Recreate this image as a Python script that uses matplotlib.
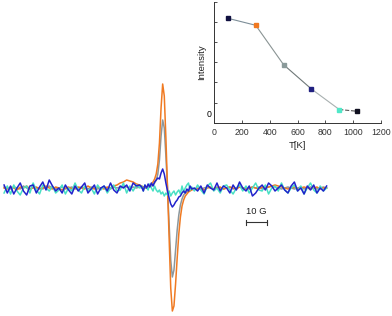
import numpy as np
import matplotlib
matplotlib.use("Agg")
import matplotlib.pyplot as plt

plt.rcParams["font.family"] = ["Liberation Sans", "DejaVu Sans"]

# field axis (G, relative to line centre): coarse wings, finer centre
field = np.concatenate([np.arange(-76, -12.5, 1.5),
                        np.arange(-12, 12, 0.75),
                        np.arange(12.5, 75, 1.5)])

# EPR spectra (arbitrary units)
orange_left = [0, -1, 1, 0, -2, 1, 0, 2, -1, 0, 1, -1, 0, 2, 0, -1, 1, 0, -2, 0, 1, -1,
               0, 1, 0, -1, 2, 0, -1, 1, 0, -1, 1, 0, 2, 3, 5, 6, 8, 7, 6, 4, 3]
orange_center = [2, 1, 0, 1, 2, 3, 4, 6, 9, 14, 24, 45, 80, 104, 92, 50, 0, -50, -100, -123,
                 -118, -96, -70, -46, -29, -18, -12, -8, -6, -4, -3, -2]
orange_right = [-1, -1, 0, -2, 0, 1, -1, 0, 1, -1, 0, 1, 0, -1, 1, 0, -1, 0, 1, 0, -1,
                1, 0, 1, 2, 3, 2, 1, 0, -1, 0, 1, -1, 0, 1, 0, -1, 0, 1, -1, 0, 0]

gray_left = [1, 0, -1, 1, 0, -1, 2, 0, -1, 1, 0, 0, -1, 1, 2, 0, -1, 0, 1, -1, 0, 1,
             -1, 0, 1, 0, -1, 1, 0, -1, 0, 1, 0, -1, 1, 0, 1, 2, 1, 0, 1, 0, 1]
gray_center = [0, 1, 0, 1, 1, 2, 2, 3, 5, 8, 14, 28, 52, 68, 60, 32, 0, -36, -72, -89,
               -82, -62, -42, -27, -17, -11, -7, -5, -4, -3, -2, -1]
gray_right = [-1, 0, -1, 0, 1, 0, -1, 1, 0, -1, 0, 1, -1, 0, 1, 0, 0, -1, 1, 0, 1,
              -1, 0, 1, 2, 1, 0, -1, 0, 1, 0, -1, 0, 1, -1, 0, 1, 0, -1, 0, 1, 0]

blue_left = [3, -5, 2, -6, 0, 5, -3, -7, 2, 3, -5, 1, 6, -2, 8, 2, -3, 0, -5, 3, -2, -6,
             2, -3, 1, 5, -5, -1, 3, -6, 0, 2, -3, 5, -2, -5, 2, 0, 3, -3, 5, 2, 3]
blue_center = [1, -3, 3, 0, 4, 1, 5, 2, 6, 8, 10, 9, 15, 19, 14, 5, -3, -10, -16, -19,
               -17, -14, -12, -9, -8, -5, -3, -5, -1, -3, 2, -1]
blue_right = [0, -3, 2, -5, 3, 0, -2, 5, -3, 2, 0, -5, 3, -2, 6, 0, -3, 2, -8, -5, 0,
              3, -2, 5, 2, -3, 0, 3, -2, -5, 2, 6, -3, 0, -6, 2, -2, 3, -5, 0, -3, 2]

cyan_left = [-5, 2, -6, 3, -3, -7, 0, 2, -5, 5, -2, -6, 3, 0, -3, 2, -5, -2, 3, -6, 0, -3,
             5, -2, -5, 2, -3, 0, -6, 3, -2, 2, -5, 0, 3, -3, -2, 5, -5, 2, -3, 3, 0]
cyan_center = [2, -3, 3, 0, -2, 4, 0, -3, 2, -2, -4, -2, -6, -4, -8, -5, -7, -3, -8, -5,
               -3, -7, -4, -2, -6, 2, -4, 0, 3, 5, -2, 1]
cyan_right = [-3, 3, -2, -6, 2, 5, -3, 0, -5, 2, 3, -2, -6, 0, 3, -3, 2, -5, 0, 5, -2,
              -3, 3, -6, 0, 2, -3, 5, -2, -5, 0, 3, -3, 2, -6, 0, 5, -2, -5, 2, -3, 0]

# inset: intensity vs temperature
temps = [100, 300, 500, 700, 900, 1030]
intensity = [94.7, 87.7, 48.3, 24.0, 3.5, 1.7]
point_colors = ["#101040", "#f07820", "#8a9a9a", "#202080", "#50e8c8", "#101020"]

spectra = [
    (gray_left + gray_center + gray_right, "#8c979c"),
    (orange_left + orange_center + orange_right, "#f07a22"),
    (cyan_left + cyan_center + cyan_right, "#48e0c4"),
    (blue_left + blue_center + blue_right, "#2222cc"),
]

fig = plt.figure(figsize=(3.92, 3.16), dpi=100)
ax = fig.add_axes([0, 0, 1, 1])
for values, color in spectra:
    ax.plot(field, values, color=color, lw=1.1)
ax.set_xlim(-77.9, 104.4)
ax.set_ylim(-128, 188)
ax.axis("off")

# 10 G scale bar
ax.plot([36.5, 46.5], [-34, -34], color="#333333", lw=0.8)
ax.plot([36.5, 36.5], [-31.5, -36.5], color="#333333", lw=0.8)
ax.plot([46.5, 46.5], [-31.5, -36.5], color="#333333", lw=0.8)
ax.text(41.5, -28, "10 G", ha="center", va="bottom", fontsize=6.8, color="#222222")

# inset
ins = fig.add_axes([214 / 392, 1 - 122.7 / 316, 167 / 392, 121 / 316])
ins.patch.set_alpha(0)
seg_styles = [("#7d8e98", "-"), ("#8a9494", "-"), ("#6f7878", "-"), ("#a8b0b0", "-"), ("#555555", "--")]
for i, (c, ls) in enumerate(seg_styles):
    ins.plot(temps[i:i + 2], intensity[i:i + 2], color=c, ls=ls, lw=0.8)
for t, v, c in zip(temps, intensity, point_colors):
    ins.plot(t, v, "s", ms=3, color=c, mec=c)
ins.set_xlim(0, 1200)
ins.set_ylim(-9.7, 111.3)
ins.set_xticks(range(0, 1201, 200))
ins.set_yticks(np.linspace(-9.7, 111.3, 7))
ins.set_yticklabels([])
ins.set_yticks([0], minor=True)
ins.set_yticklabels(["0"], minor=True)
ins.tick_params(axis="y", which="minor", length=0, pad=2, labelsize=6.3)
ins.tick_params(axis="both", which="major", direction="in", length=2, width=0.6,
                labelsize=6.3, colors="#333333", pad=3.5)
for s in ["top", "right"]:
    ins.spines[s].set_visible(False)
for s in ["left", "bottom"]:
    ins.spines[s].set_linewidth(0.7)
    ins.spines[s].set_color("#333333")
ins.set_xlabel("T[K]", fontsize=6.8, labelpad=3, color="#222222")
ins.set_ylabel("Intensity", fontsize=6.8, labelpad=0, color="#222222")

fig.savefig("out.png", dpi=100)
